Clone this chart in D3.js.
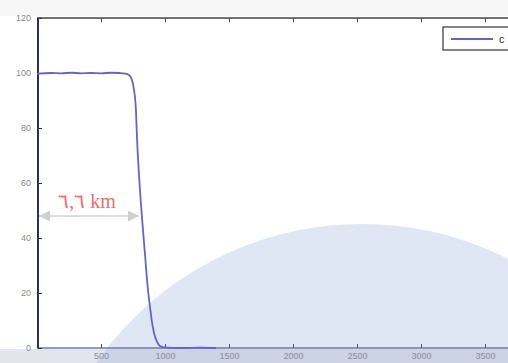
<!DOCTYPE html>
<html><head><meta charset="utf-8">
<script src="https://cdn.jsdelivr.net/npm/d3@7"></script>
<style>html,body{margin:0;padding:0;background:#fff;overflow:hidden}svg{display:block}</style>
</head><body>
<script>
// data (x in metres-like units, y in %)
const xs = [0,109,188,266,344,422,500,578,641,688,719,742,758,773,781,797,820,844,867,883,898,914,938,961,992,1125,1281,1398];
const ys = [99.8,100,99.9,100.1,99.9,100,99.9,100.1,100,99.8,99.3,97.5,93.8,86.5,76.7,62.9,47.6,33.8,21.1,14.9,9.5,5.5,2.2,0.7,0.2,0,0.1,0];
const yTicks = [0,20,40,60,80,100,120];
const xTicks = [500,1000,1500,2000,2500,3000,3500];
const annotX = [16, 797];
const annotY = [48];
const annotText = ["٦,٦ km"];
const legendLabels = ["c"];

const W = 508, H = 363;
const svg = d3.select("body").append("svg").attr("width", W).attr("height", H);
const x = d3.scaleLinear().domain([0, 4000]).range([37, 37 + 4000 * 0.128]);
const y = d3.scaleLinear().domain([0, 120]).range([348, 18]);

// background watermark
svg.append("rect").attr("x",0).attr("y",0).attr("width",W).attr("height",H).attr("fill","#ffffff");
svg.append("rect").attr("x",0).attr("y",0).attr("width",W).attr("height",16).attr("fill","#f7f7f7");
svg.append("circle").attr("cx",362).attr("cy",548).attr("r",324).attr("fill","#dfe6f4");
svg.append("rect").attr("x",0).attr("y",349).attr("width",W).attr("height",14).attr("fill","#9aa3c0").attr("opacity",0.28);

// axes frame
svg.append("line").attr("x1",x(0)).attr("x2",W).attr("y1",y(120)).attr("y2",y(120)).attr("stroke","#444").attr("stroke-width",1.5);
svg.append("line").attr("x1",x(0)).attr("x2",W).attr("y1",y(0)).attr("y2",y(0)).attr("stroke","#7478a8").attr("stroke-width",1.5);
svg.append("line").attr("x1",38).attr("x2",38).attr("y1",y(120)).attr("y2",y(0)).attr("stroke","#2c2c66").attr("stroke-width",2);

const yAxis = d3.axisLeft(y).tickValues(yTicks).tickSize(-4).tickPadding(7);
const gy = svg.append("g").attr("transform","translate(38,0)").call(yAxis);
gy.select(".domain").remove();
gy.selectAll("line").attr("stroke","#333");
gy.selectAll("text").attr("fill","#8a8a8a").attr("font-size","9px").attr("font-family","Liberation Sans, Arial");

const xAxis = d3.axisBottom(x).tickValues(xTicks).tickSize(-4).tickPadding(5).tickFormat(d3.format("d"));
const gx = svg.append("g").attr("transform","translate(0,348)").call(xAxis);
gx.select(".domain").remove();
gx.selectAll("line").attr("stroke","#555");
gx.selectAll("text").attr("fill","#8a8c99").attr("font-size","9px").attr("font-family","Liberation Sans, Arial");

const xTop = d3.axisTop(x).tickValues(xTicks).tickSize(-4).tickFormat("");
const gt = svg.append("g").attr("transform","translate(0,18)").call(xTop);
gt.select(".domain").remove();
gt.selectAll("line").attr("stroke","#444");

// curve
const pts = xs.map((d,i)=>[d, ys[i]]);
svg.append("path").datum(pts)
  .attr("d", d3.line().x(d=>x(d[0])).y(d=>y(d[1])).curve(d3.curveMonotoneX))
  .attr("fill","none").attr("stroke","#6464cc").attr("stroke-width",1.8);

// annotation arrow
const defs = svg.append("defs");
defs.append("marker").attr("id","ah").attr("viewBox","0 0 10 10").attr("refX",10).attr("refY",5)
  .attr("markerWidth",14).attr("markerHeight",11).attr("markerUnits","userSpaceOnUse").attr("orient","auto-start-reverse")
  .append("path").attr("d","M0,0 L10,5 L0,10 z").attr("fill","#cfcfcf");
svg.append("line").attr("x1",x(annotX[0])).attr("x2",x(annotX[1])).attr("y1",y(annotY[0])).attr("y2",y(annotY[0]))
  .attr("stroke","#d2d2d2").attr("stroke-width",1.5)
  .attr("marker-start","url(#ah)").attr("marker-end","url(#ah)");
svg.append("text").attr("x",(x(annotX[0])+x(annotX[1]))/2 - 2).attr("y",y(annotY[0])-8)
  .attr("text-anchor","middle").attr("font-family","Liberation Serif, Times New Roman, serif")
  .attr("font-size","20px").attr("fill","#f26d6d").text(annotText[0]);

// legend
const lg = svg.append("g").attr("transform","translate(443,27)");
lg.append("rect").attr("x",0).attr("y",0).attr("width",120).attr("height",23).attr("fill","#fff").attr("stroke","#333").attr("stroke-width",1.2);
lg.append("line").attr("x1",8).attr("x2",50).attr("y1",12).attr("y2",12).attr("stroke","#6464cc").attr("stroke-width",1.8);
lg.append("text").attr("x",56).attr("y",16).attr("font-size","11px").attr("font-family","Liberation Sans, Arial").attr("fill","#333").text(legendLabels[0]);
</script>
</body></html>
